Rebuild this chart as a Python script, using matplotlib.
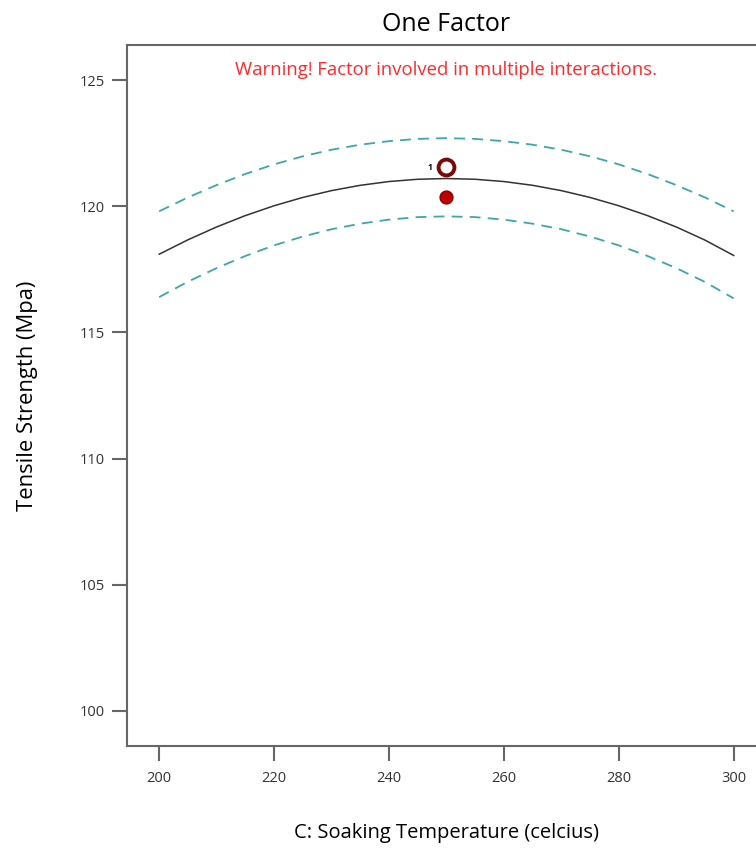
import matplotlib
matplotlib.use("Agg")
import matplotlib.pyplot as plt

temp = [200, 205, 210, 215, 220, 225, 230, 235, 240, 245, 250,
        255, 260, 265, 270, 275, 280, 285, 290, 295, 300]
pred = [118.1, 118.67, 119.18, 119.63, 120.02, 120.35, 120.62, 120.83, 120.98, 121.07, 121.1,
        121.07, 120.98, 120.83, 120.62, 120.35, 120.02, 119.63, 119.18, 118.66, 118.05]
upper = [119.8, 120.35, 120.84, 121.28, 121.66, 121.98, 122.24, 122.44, 122.58, 122.67, 122.7,
         122.67, 122.58, 122.44, 122.24, 121.98, 121.66, 121.28, 120.84, 120.35, 119.8]
lower = [116.4, 117.01, 117.55, 118.03, 118.45, 118.8, 119.09, 119.31, 119.47, 119.57, 119.6,
         119.57, 119.47, 119.31, 119.09, 118.8, 118.45, 118.03, 117.55, 117.0, 116.35]
pts_open_x = [250]
pts_open_y = [121.55]
pts_fill_x = [250]
pts_fill_y = [120.35]
xticks = [200, 220, 240, 260, 280, 300]
yticks = [100, 105, 110, 115, 120, 125]

plt.rcParams['font.family'] = ['Open Sans', 'DejaVu Sans']

fig = plt.figure(figsize=(7.56, 8.48), dpi=100)
ax = fig.add_axes([0.168, 0.1203, 0.845, 0.8266])

ax.plot(temp, upper, color='#3aa8a8', lw=1.3, dashes=(6, 4))
ax.plot(temp, lower, color='#3aa8a8', lw=1.3, dashes=(6, 4))
ax.plot(temp, pred, color='#333333', lw=1.1)
ax.scatter(pts_fill_x, pts_fill_y, s=85, color='#c00000', edgecolor='#8b0000', lw=1, zorder=5)
ax.scatter(pts_open_x, pts_open_y, s=130, facecolor='white', edgecolor='#7a0a0a', lw=2.8, zorder=6)
ax.text(pts_open_x[0] - 2.4, pts_open_y[0], '1', fontsize=6, fontweight='bold', ha='right', va='center')

ax.set_xlim(194.4, 305.6)
ax.set_ylim(98.61, 126.39)
ax.set_xticks(xticks)
ax.set_yticks(yticks)
for s in ax.spines.values():
    s.set_color('#666666')
    s.set_linewidth(1.5)
ax.tick_params(direction='out', length=11, width=1.5, color='#666666', labelsize=10.5, labelcolor='#333333')
ax.tick_params(axis='x', pad=7)
ax.tick_params(axis='y', pad=5)

ax.set_title('One Factor', fontsize=18, pad=10)
ax.text(0.5, 0.965, 'Warning! Factor involved in multiple interactions.', transform=ax.transAxes,
        color='#ff2a2a', fontsize=13.3, ha='center', va='center')
ax.set_xlabel('C: Soaking Temperature (celcius)', fontsize=14.5, labelpad=27)
ax.set_ylabel('Tensile Strength (Mpa)', fontsize=15.8, labelpad=30)

fig.savefig('out.png', dpi=100)
